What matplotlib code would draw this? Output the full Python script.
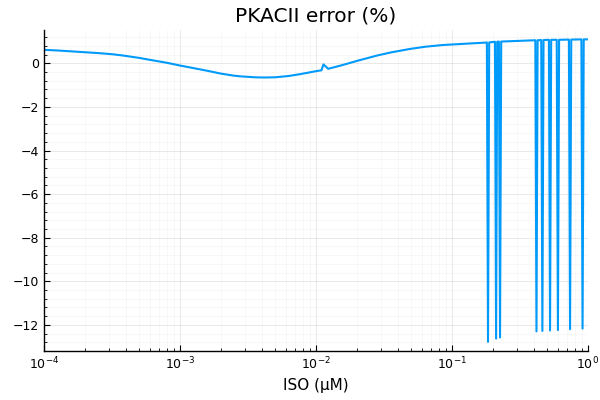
import numpy as np
import matplotlib
matplotlib.use("Agg")
import matplotlib.pyplot as plt
from matplotlib.ticker import LogLocator, MultipleLocator, NullFormatter, FuncFormatter

# smooth part of the curve, read at log10(ISO) positions (ISO in uM, error in %)
log_iso_base = [-4.0, -3.9, -3.8, -3.7, -3.6, -3.5, -3.42, -3.3, -3.22, -3.1,
                -3.0, -2.9, -2.8, -2.7, -2.61, -2.55, -2.45, -2.38, -2.3, -2.2,
                -2.12, -2.06, -2.0, -1.96, -1.945, -1.91, -1.8, -1.7, -1.55, -1.45,
                -1.31, -1.2, -1.07, -0.9, -0.757]
err_base = [0.62, 0.59, 0.55, 0.51, 0.47, 0.42, 0.36, 0.25, 0.16, 0.03,
            -0.10, -0.22, -0.34, -0.47, -0.56, -0.60, -0.64, -0.65, -0.64, -0.58,
            -0.50, -0.43, -0.36, -0.32, -0.05, -0.25, -0.07, 0.11, 0.36, 0.50,
            0.66, 0.76, 0.84, 0.90, 0.95]

# downward spikes at high ISO (ISO in uM)
spike_left = [0.1805, 0.2070, 0.2212, 0.4100, 0.4530, 0.5160, 0.5890, 0.7240, 0.8940]
spike_mid = [0.1840, 0.2110, 0.2255, 0.4180, 0.4620, 0.5260, 0.6010, 0.7380, 0.9120]
spike_right = [0.1877, 0.2150, 0.2300, 0.4260, 0.4710, 0.5360, 0.6130, 0.7530, 0.9300]
spike_top = [0.96, 0.99, 1.00, 1.06, 1.07, 1.08, 1.08, 1.09, 1.10]
spike_low = [-12.78, -12.63, -12.58, -12.30, -12.28, -12.26, -12.24, -12.20, -12.17]

iso_end = [1.0]
err_end = [1.10]

xs = list(10.0 ** np.array(log_iso_base))
ys = list(err_base)
for l, m, r, top, low in zip(spike_left, spike_mid, spike_right, spike_top, spike_low):
    xs += [l, m, r]
    ys += [top, low, top]
xs += iso_end
ys += err_end

fig = plt.figure(figsize=(6, 4), dpi=100)
ax = fig.add_axes([0.0733, 0.1225, 0.9067, 0.8025])

ax.plot(xs, ys, color="#009AFA", linewidth=1.5)

ax.set_xscale("log")
ax.set_xlim(1e-4, 1)
ax.set_ylim(-13.2, 1.53)

ax.xaxis.set_major_locator(LogLocator(base=10, numticks=10))
ax.xaxis.set_minor_locator(LogLocator(base=10, subs=np.arange(2, 10), numticks=20))
ax.xaxis.set_minor_formatter(NullFormatter())
ax.yaxis.set_major_locator(MultipleLocator(2))
ax.yaxis.set_minor_locator(MultipleLocator(0.4))
ax.yaxis.set_major_formatter(FuncFormatter(lambda v, p: f"{v:.0f}".replace("-", "\u2212")))

ax.grid(True, which="major", color="black", alpha=0.1, linewidth=0.6)
ax.grid(True, which="minor", color="black", alpha=0.04, linewidth=0.5)
ax.set_axisbelow(True)

for s in ["top", "right"]:
    ax.spines[s].set_visible(False)
for s in ["left", "bottom"]:
    ax.spines[s].set_linewidth(1.0)

ax.tick_params(which="major", direction="in", length=4, width=0.8, labelsize=9)
ax.tick_params(which="minor", direction="in", length=2, width=0.6)

ax.set_title("PKACII error (%)", fontsize=14.5)
ax.set_xlabel("ISO (\u03bcM)", fontsize=11)

fig.savefig("out.png", dpi=100)
